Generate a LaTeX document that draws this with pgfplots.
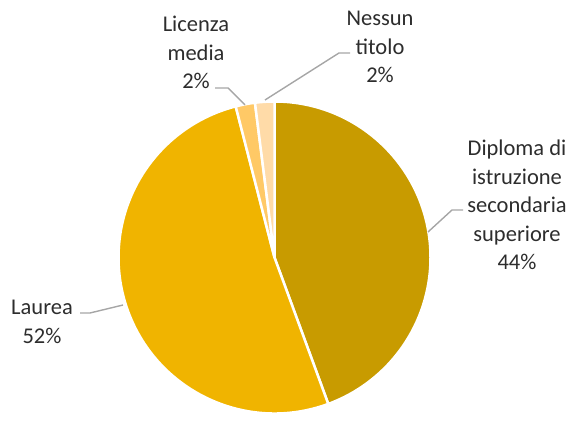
\documentclass[border=0pt]{standalone}
\usepackage{pgfplots}
\pgfplotsset{compat=1.18}
\usepackage{pgfplotstable}
\usepackage{fontspec}
\setmainfont{Carlito}
\definecolor{cDip}{RGB}{200,155,0}
\definecolor{cLau}{RGB}{240,180,0}
\definecolor{cLic}{RGB}{255,201,102}
\definecolor{cNes}{RGB}{255,219,168}
\definecolor{labgray}{RGB}{45,45,45}
\definecolor{leader}{RGB}{166,166,166}
\pgfplotstableread{
value color
44.4 cDip
51.6 cLau
2 cLic
2 cNes
}\piedata
\begin{document}
\begin{tikzpicture}
\begin{axis}[scale only axis, width=573pt, height=414pt,
  xmin=0, xmax=573, ymin=0, ymax=414, hide axis, clip=false]
\path (axis cs:0,0) rectangle (axis cs:573,414);
\def\cumangle{90}
\pgfplotsforeachungrouped \i in {0,...,3}{%
  \pgfplotstablegetelem{\i}{value}\of\piedata \let\v=\pgfplotsretval
  \pgfplotstablegetelem{\i}{color}\of\piedata \let\c=\pgfplotsretval
  \pgfmathsetmacro\endangle{\cumangle-3.6*\v}%
  \edef\temp{\noexpand\fill[\c, draw=white, line width=2.5pt, line join=round] (axis cs:274.5,156.5) -- ++(\cumangle:156pt) arc[start angle=\cumangle, end angle=\endangle, radius=156pt] -- cycle;}%
  \temp
  \global\let\cumangle\endangle
}
\addplot[leader, line width=1.4pt, no marks] coordinates {(215,326) (228,326) (245,309)};
\addplot[leader, line width=1.4pt, no marks] coordinates {(350,361) (339,361) (265,314)};
\addplot[leader, line width=1.4pt, no marks] coordinates {(463,204) (452,204) (428,182)};
\addplot[leader, line width=1.4pt, no marks] coordinates {(80,101) (90,101) (123,109)};
\tikzset{lab/.style={align=center, font=\fontsize{22.5}{28.5}\selectfont, text=labgray, inner sep=0pt}}
\node[lab] at (axis cs:196,361.5) {Licenza\\media\\2\%};
\node[lab] at (axis cs:380,367) {Nessun\\titolo\\2\%};
\node[lab] at (axis cs:517,209) {Diploma di\\istruzione\\secondaria\\superiore\\44\%};
\node[lab] at (axis cs:42,92) {Laurea\\52\%};
\end{axis}
\end{tikzpicture}
\end{document}
